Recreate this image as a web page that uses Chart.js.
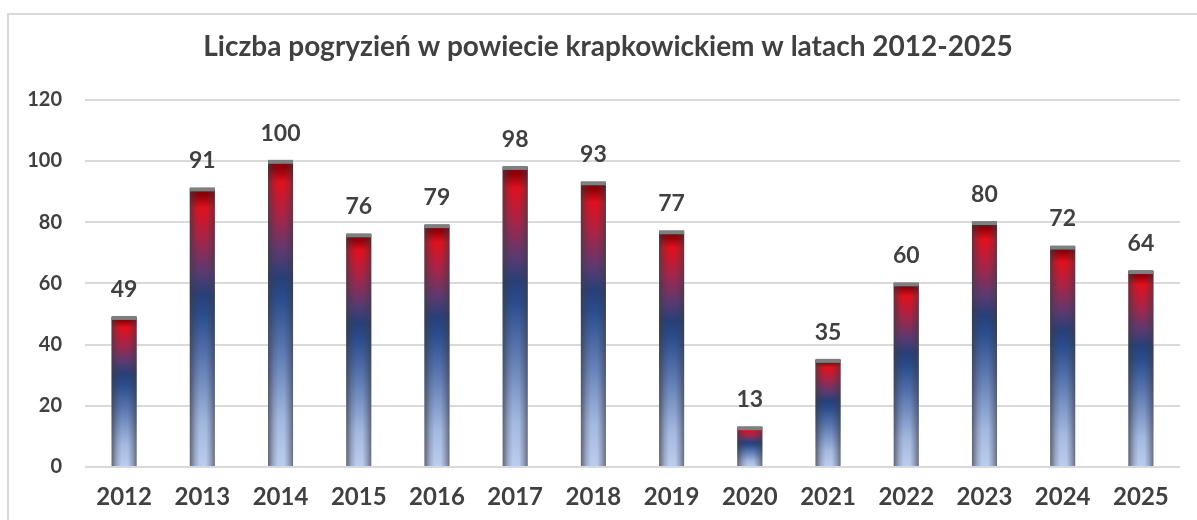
<!DOCTYPE html>
<html>
<head>
<meta charset="utf-8">
<script src="https://cdn.jsdelivr.net/npm/chart.js@4.4.0/dist/chart.umd.min.js"></script>
<style>
  html, body { margin: 0; padding: 0; background: #fff; overflow: hidden; }
  #wrap { position: relative; width: 1197px; height: 520px; }
  #frame { position: absolute; left: 7px; top: 13px; width: 1200px; height: 520px; border: 2px solid #d9d9d9; box-sizing: border-box; }
  canvas { position: absolute; left: 0; top: 0; }
</style>
</head>
<body>
<div id="wrap">
  <div id="frame"></div>
  <canvas id="myChart" width="1197" height="520"></canvas>
</div>
<script>
var years = ['2012', '2013', '2014', '2015', '2016', '2017', '2018', '2019', '2020', '2021', '2022', '2023', '2024', '2025'];
var bites = [49, 91, 100, 76, 79, 98, 93, 77, 13, 35, 60, 80, 72, 64];
var yTicks = [0, 20, 40, 60, 80, 100, 120];
var chartTitle = 'Liczba pogryzień w powiecie krapkowickiem w latach 2012-2025';

var textColor = '#404040';

document.addEventListener('DOMContentLoaded', function() {
    const ctx = document.getElementById('myChart').getContext('2d');

    // vertical colour run of each bar: light blue at the base, red at the top
    function barFill(context) {
        const chart = context.chart;
        if (!chart.chartArea) return '#2f5597';
        const y = chart.scales.y;
        const top = y.getPixelForValue(bites[context.dataIndex]);
        const bottom = y.getPixelForValue(0);
        const g = chart.ctx.createLinearGradient(0, bottom, 0, top);
        g.addColorStop(0, '#bccdee');
        g.addColorStop(0.15, '#a4b9e0');
        g.addColorStop(0.4, '#5673ad');
        g.addColorStop(0.55, '#2a4c8c');
        g.addColorStop(0.62, '#283f78');
        g.addColorStop(0.7, '#5a3a72');
        g.addColorStop(0.82, '#a82448');
        g.addColorStop(0.93, '#e0101e');
        g.addColorStop(0.975, '#900008');
        g.addColorStop(1, '#800008');
        return g;
    }

    // side shading, grey cap and value labels
    const barDecor = {
        id: 'barDecor',
        afterDatasetsDraw(chart) {
            const c = chart.ctx;
            const meta = chart.getDatasetMeta(0);
            meta.data.forEach(function(bar, i) {
                const left = bar.x - bar.width / 2;
                const right = bar.x + bar.width / 2;
                const top = bar.y;
                const h = bar.base - bar.y;
                const g = c.createLinearGradient(left, 0, right, 0);
                g.addColorStop(0, 'rgba(60,60,70,0.7)');
                g.addColorStop(0.22, 'rgba(60,60,70,0.22)');
                g.addColorStop(0.4, 'rgba(60,60,70,0)');
                g.addColorStop(0.65, 'rgba(60,60,70,0)');
                g.addColorStop(0.85, 'rgba(60,60,70,0.32)');
                g.addColorStop(1, 'rgba(60,60,70,0.65)');
                c.save();
                c.fillStyle = g;
                c.fillRect(left, top, bar.width, h);
                c.fillStyle = '#7f7f7f';
                c.fillRect(left, top - 1, bar.width, 4);
                c.fillStyle = textColor;
                c.font = 'bold 23px Lato';
                c.textAlign = 'center';
                c.textBaseline = 'bottom';
                c.fillText(String(bites[i]), bar.x, top - 16);
                c.restore();
            });
        }
    };

    // title sits a little right of the canvas centre, as in the original
    const titleDraw = {
        id: 'titleDraw',
        afterDraw(chart) {
            const c = chart.ctx;
            c.save();
            c.fillStyle = textColor;
            c.font = 'bold 28px Lato';
            c.textAlign = 'center';
            c.textBaseline = 'middle';
            c.fillText(chartTitle, 608, 47);
            c.restore();
        }
    };

    new Chart(ctx, {
        type: 'bar',
        data: {
            labels: years,
            datasets: [{
                data: bites,
                backgroundColor: barFill,
                borderWidth: 0,
                barPercentage: 0.64,
                categoryPercentage: 0.5
            }]
        },
        options: {
            responsive: false,
            animation: false,
            layout: { padding: { left: 0, right: 17, top: 99.6, bottom: 0 } },
            plugins: {
                legend: { display: false },
                tooltip: { enabled: false },
                title: { display: false }
            },
            scales: {
                x: {
                    grid: { display: false, drawTicks: false },
                    border: { display: false },
                    ticks: {
                        color: textColor,
                        font: { family: 'Lato', size: 24, weight: 'bold' },
                        padding: 16,
                        maxRotation: 0
                    },
                    afterFit: function(axis) { axis.height = 53; }
                },
                y: {
                    min: 0,
                    max: 120,
                    afterBuildTicks: function(axis) {
                        axis.ticks = yTicks.map(function(v) { return { value: v }; });
                    },
                    grid: { color: '#d9d9d9', lineWidth: 2, drawTicks: false },
                    border: { display: false },
                    ticks: {
                        color: textColor,
                        font: { family: 'Lato', size: 20, weight: 'bold' },
                        padding: 23
                    },
                    afterFit: function(axis) { axis.width = 85; }
                }
            }
        },
        plugins: [barDecor, titleDraw]
    });
});
</script>
</body>
</html>
